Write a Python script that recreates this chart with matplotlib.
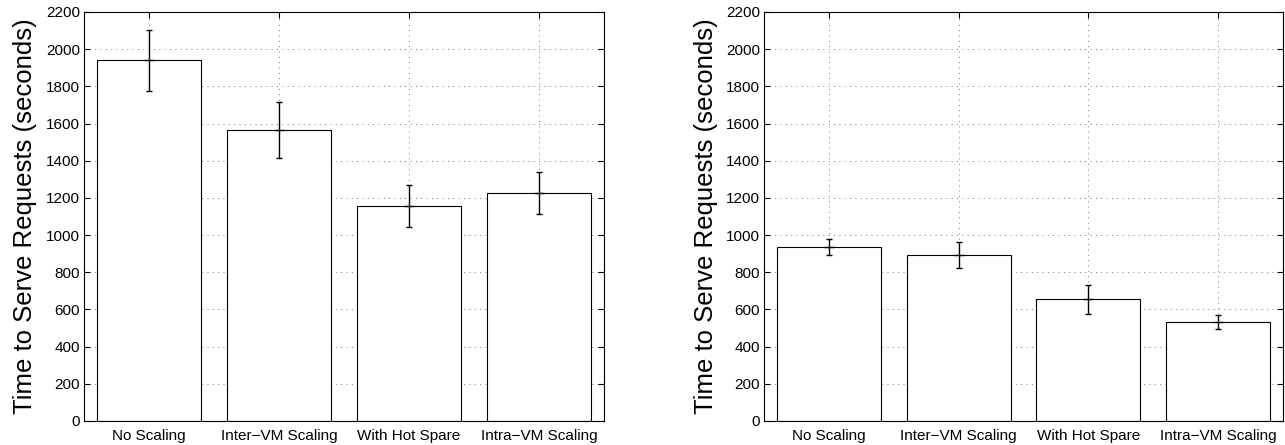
import numpy as np
import matplotlib.pyplot as plt

plt.rcParams['font.family'] = ['Liberation Sans', 'DejaVu Sans']

categories = ['No Scaling', 'Inter\u2212VM Scaling', 'With Hot Spare', 'Intra\u2212VM Scaling']
left_means = [1940, 1565, 1156, 1226]
left_errs = [165, 152, 115, 111]
right_means = [937, 892, 656, 533]
right_errs = [42, 70, 78, 38]
yticks = np.arange(0, 2201, 200)

fig = plt.figure(figsize=(12.85, 4.45), dpi=100)
ax1 = fig.add_axes([84/1285, 1-421/445, 520/1285, 409/445])
ax2 = fig.add_axes([764/1285, 1-421/445, 519/1285, 409/445])

x = np.arange(1, len(categories)+1)
for ax, means, errs in [(ax1, left_means, left_errs), (ax2, right_means, right_errs)]:
    ax.bar(x, means, width=0.8, color='white', edgecolor='black', linewidth=0.8, zorder=2)
    ax.errorbar(x, means, yerr=errs, fmt='none', ecolor='black', elinewidth=1.0,
                capsize=2.2, capthick=1.0, zorder=3)
    ax.plot(x, means, ls='none', marker='_', ms=7, mew=1.0, color='black', zorder=3)
    ax.set_xlim(0.5, 4.5)
    ax.set_ylim(0, 2200)
    ax.set_xticks(x)
    ax.set_xticklabels(categories, fontsize=11)
    ax.set_yticks(yticks)
    ax.tick_params(axis='y', labelsize=11, pad=3)
    ax.tick_params(axis='x', pad=6)
    ax.tick_params(direction='in', top=True, right=True, length=4, width=0.8)
    ax.grid(True, ls=(0, (1, 4.5)), color='#777777', lw=0.7, zorder=0)
    ax.set_axisbelow(True)
    for s in ax.spines.values():
        s.set_linewidth(0.8)
    ax.set_ylabel('Time to Serve Requests (seconds)', fontsize=18.5, labelpad=6)

plt.savefig('out.png', dpi=100)
